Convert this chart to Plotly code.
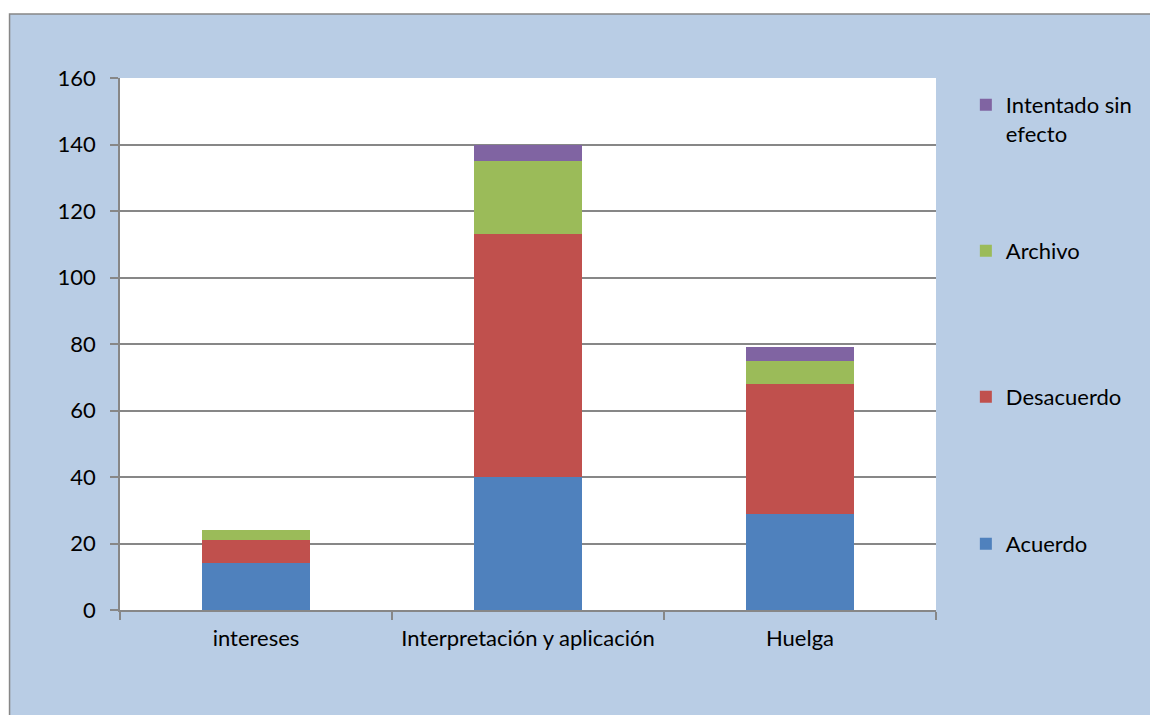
import plotly.graph_objects as go

categories = ["intereses", "Interpretación y aplicación", "Huelga"]
series_names = ["Acuerdo", "Desacuerdo", "Archivo", "Intentado sin efecto"]
acuerdo = [14, 40, 29]
desacuerdo = [7, 73, 39]
archivo = [3, 22, 7]
intentado = [0, 5, 4]
y_ticks = [0, 20, 40, 60, 80, 100, 120, 140, 160]

colors = ["#4F81BD", "#C0504D", "#9BBB59", "#8064A2"]
legend_labels = ["Acuerdo", "Desacuerdo", "Archivo", "Intentado sin<br>efecto"]
values = [acuerdo, desacuerdo, archivo, intentado]

W, H = 1150, 715
PL, PR, PT, PB = 120, 940, 78, 610  # plot area in page pixels
L, T = PL, PT
R = W - PR
B = H - PB
pw, ph = PR - PL, PB - PT

def px_x(x):
    return (x - PL) / pw

def px_y(y):
    return (PB - y) / ph

FONT = "Lato, Carlito, 'Liberation Sans', sans-serif"
FS = 22

fig = go.Figure()
legend_keys = ["legend", "legend2", "legend3", "legend4"]
legend_ys = [543, 396, 250, 104]
for name, lab, vals, col, lk in zip(series_names, legend_labels, values, colors, legend_keys):
    fig.add_trace(go.Bar(
        x=categories, y=vals, name=lab, marker_color=col,
        marker_line_width=0, legend=lk,
    ))

layout_legends = {}
for lk, ly in zip(legend_keys, legend_ys):
    layout_legends[lk] = dict(
        x=px_x(970), y=px_y(ly - 20), xanchor="left", yanchor="top",
        bgcolor="rgba(0,0,0,0)", font=dict(family=FONT, size=FS, color="#000000"),
        valign="top", itemclick=False, itemdoubleclick=False,
    )

fig.update_layout(
    width=W, height=H,
    margin=dict(l=L, r=R, t=T, b=B, pad=0),
    paper_bgcolor="#FFFFFF",
    plot_bgcolor="#FFFFFF",
    barmode="stack",
    bargap=0.6,
    showlegend=True,
    font=dict(family=FONT, size=FS, color="#000000"),
    xaxis=dict(
        showgrid=False, showline=True, linecolor="#878787", linewidth=1.5,
        ticks="outside", tickson="boundaries", ticklen=8, tickcolor="#878787", tickwidth=1.5,
        tickfont=dict(family=FONT, size=FS, color="#000000"),
        ticklabelstandoff=8,
        mirror=False, zeroline=False,
    ),
    yaxis=dict(
        range=[0, 160], tickvals=y_ticks, showgrid=True, gridcolor="#878787", gridwidth=1.5,
        showline=True, linecolor="#878787", linewidth=1.5,
        ticks="outside", ticklen=8, tickcolor="#878787", tickwidth=1.5,
        tickfont=dict(family=FONT, size=FS, color="#000000"),
        ticklabelstandoff=10,
        zeroline=False,
    ),
    shapes=[
        dict(
            type="rect", xref="paper", yref="paper", layer="below",
            x0=px_x(9), x1=px_x(1400), y0=px_y(14), y1=px_y(1000),
            fillcolor="#B9CDE5", line=dict(color="#878787", width=1.5),
        ),
        dict(
            type="rect", xref="paper", yref="paper", layer="below",
            x0=0, x1=1, y0=0, y1=1,
            fillcolor="#FFFFFF", line=dict(width=0),
        ),
    ],
    **layout_legends,
)

fig.write_html(
    "out.html",
    config={"displayModeBar": False},
    post_script="document.body.style.margin='0';document.body.style.overflow='hidden';",
)
